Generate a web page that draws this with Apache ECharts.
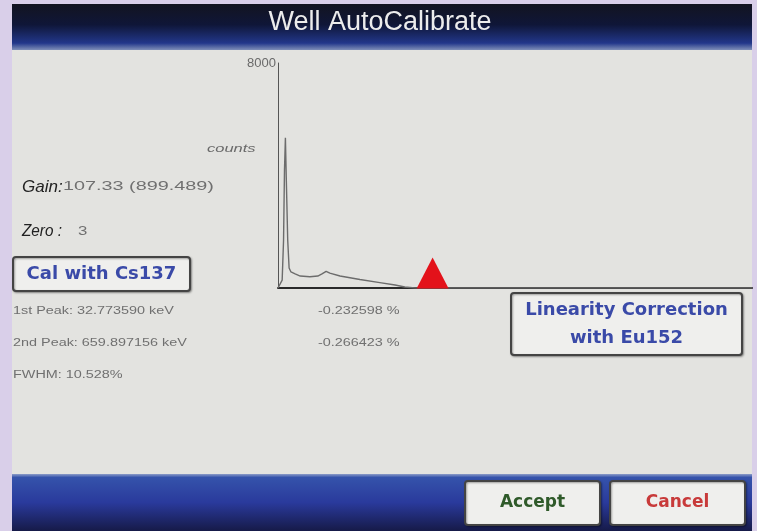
<!DOCTYPE html>
<html lang="en">
<head>
    <meta charset="UTF-8">
    <title>Well AutoCalibrate</title>
    <style>
        html, body { margin: 0; padding: 0; background: #d9cfe9; }
        #main { width: 757px; height: 531px; }
    </style>
    <script src="https://cdn.jsdelivr.net/npm/echarts@6/dist/echarts.min.js"></script>
</head>
<body>
<div id="main"></div>
<script>
    // spectrum: channel -> counts
    const channels = [0, 4, 9, 12, 14, 16, 18, 21, 24, 28, 37, 48, 69, 86, 95, 104, 112, 134, 177, 220, 253, 274, 296, 1024]
    const counts = [0, 70, 280, 1700, 4180, 5345, 3820, 1700, 710, 570, 500, 425, 400, 425, 500, 590, 530, 425, 300, 190, 105, 35, 0, 0]
    // red marker position (channel)
    const markerChannel = [334]
    const yTicks = [0, 8000]

    const infoLines = ['1st Peak: 32.773590 keV', '2nd Peak: 659.897156 keV', 'FWHM: 10.528%']
    const deviations = ['-0.232598 %', '-0.266423 %']

    document.addEventListener('DOMContentLoaded', () => {
        const chart = echarts.init(document.getElementById('main'))

        // text placed by x/y so that scaleX stretches it to the wide screen font
        const txt = (x, y, text, font, fill, sx) => ({
            type: 'text', x, y, scaleX: sx || 1,
            style: {text, fill, font, verticalAlign: 'middle'}
        })
        const small = (x, y, text) => txt(x, y, text, '10px "Liberation Sans", sans-serif', '#707070', 1.44)

        const button = (x, y, w, h, text, color, size) => ({
            type: 'group', x, y,
            children: [
                {type: 'rect', shape: {x: 0, y: 0, width: w, height: h, r: 3},
                 style: {fill: '#efefed', stroke: '#444', lineWidth: 2,
                         shadowBlur: 2, shadowOffsetX: 1, shadowOffsetY: 1, shadowColor: 'rgba(0,0,0,0.35)'}},
                {type: 'text', x: w / 2, y: h / 2,
                 style: {text, fill: color, align: 'center', verticalAlign: 'middle',
                         font: 'bold ' + size + 'px "DejaVu Sans", sans-serif', lineHeight: 28}}
            ]
        })

        const option = {
            animation: false,
            backgroundColor: '#d9cfe9',
            grid: {left: 278, top: 63, right: 5, bottom: 243},
            xAxis: {
                type: 'value', min: 0, max: 1024,
                axisLine: {lineStyle: {color: '#2a2a2a', width: 2}},
                axisTick: {show: false}, axisLabel: {show: false}, splitLine: {show: false}
            },
            yAxis: {
                type: 'value', min: yTicks[0], max: yTicks[1], interval: 8000,
                axisLine: {show: true, lineStyle: {color: '#555', width: 1}},
                axisTick: {show: false}, splitLine: {show: false},
                axisLabel: {
                    margin: 2, color: '#6a6a6a', fontSize: 13, fontFamily: 'Liberation Sans',
                    formatter: v => (v === 8000 ? '8000' : '')
                }
            },
            graphic: [
                // screen background
                {type: 'rect', z: -10, shape: {x: 12, y: 4, width: 740, height: 527}, style: {fill: '#e3e3e0'}},
                // header
                {type: 'rect', z: -9, shape: {x: 12, y: 4, width: 740, height: 46},
                 style: {fill: new echarts.graphic.LinearGradient(0, 0, 0, 1, [
                     {offset: 0, color: '#131420'}, {offset: 0.45, color: '#0f1638'},
                     {offset: 0.85, color: '#22378a'}, {offset: 1, color: '#7f8fb8'}])}},
                {type: 'text', x: 380, y: 23,
                 style: {text: 'Well AutoCalibrate', fill: '#ececec', align: 'center', verticalAlign: 'middle',
                         font: '27px "Liberation Sans", sans-serif'}},
                // footer
                {type: 'rect', z: -9, shape: {x: 12, y: 474, width: 740, height: 57},
                 style: {fill: new echarts.graphic.LinearGradient(0, 0, 0, 1, [
                     {offset: 0, color: '#8c9cc8'}, {offset: 0.06, color: '#3553ab'},
                     {offset: 0.5, color: '#2a3a9c'}, {offset: 1, color: '#161a48'}])}},
                // axis caption
                txt(207, 149, 'counts', 'italic 11px "Liberation Sans", sans-serif', '#6a6a6a', 1.5),
                // gain / zero
                txt(22, 187, 'Gain:', 'italic 17px "Liberation Sans", sans-serif', '#222'),
                txt(63, 187, '107.33 (899.489)', '12px "Liberation Sans", sans-serif', '#707070', 1.65),
                txt(22, 231, 'Zero :', 'italic 17px "Liberation Sans", sans-serif', '#222', 0.9),
                txt(78, 232, '3', '12px "Liberation Sans", sans-serif', '#707070', 1.4),
                button(13, 257, 177, 34, 'Cal with Cs137', '#3a4aa8', 18),
                small(13, 311, infoLines[0]),
                small(13, 343, infoLines[1]),
                small(13, 375, infoLines[2]),
                small(318, 311, deviations[0]),
                small(318, 343, deviations[1]),
                button(511, 293, 231, 62, 'Linearity Correction\nwith Eu152', '#3a4aa8', 18),
                button(465, 481, 135, 44, 'Accept', '#2f5a2a', 17),
                button(610, 481, 135, 44, 'Cancel', '#c83a3a', 17)
            ],
            series: [
                {
                    type: 'line',
                    data: channels.map((c, i) => [c, counts[i]]),
                    showSymbol: false,
                    lineStyle: {color: '#6c6c6c', width: 1.4}
                },
                {
                    type: 'scatter',
                    data: markerChannel.map(c => [c, 0]),
                    symbol: 'triangle',
                    symbolSize: [32, 31],
                    symbolOffset: [0, -15],
                    itemStyle: {color: '#e3121a', opacity: 1},
                    z: 5
                }
            ]
        }
        chart.setOption(option)
    })
</script>
</body>
</html>
